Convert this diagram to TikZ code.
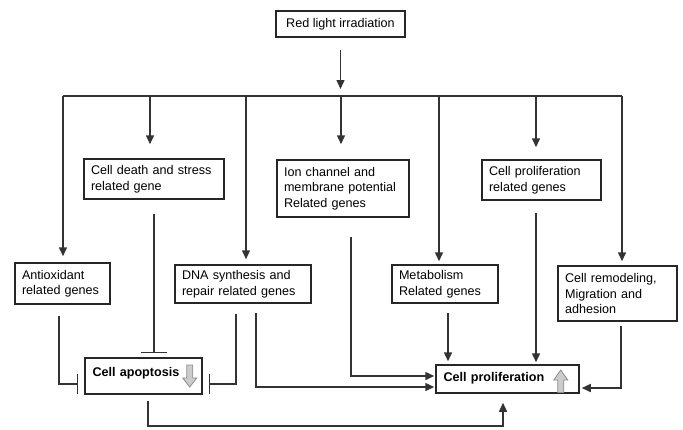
\documentclass[tikz,border=0pt]{standalone}
\usepackage{fontspec}
\setmainfont{Liberation Sans}
\usetikzlibrary{arrows.meta}
\begin{document}
\begin{tikzpicture}[x=1pt,y=-1pt,
  every node/.style={font=\fontsize{12.6}{15.5}\selectfont},
  gbox/.style={draw=black!85, line width=1.5pt, rectangle, inner xsep=7pt, inner ysep=0pt, align=left},
  conn/.style={draw=black!80, line width=1.5pt},
  arr/.style={conn, -{Triangle[length=9pt,width=8pt]}},
  inh/.style={conn, -{Bar[width=20pt]}},
  hollow/.style={draw=black!45, fill=black!20, line width=0.8pt, line join=miter}]
\useasboundingbox (0,0) rectangle (683,429);

% boxes
\node[gbox, minimum width=129pt, minimum height=26pt, align=center] (red) at (340.5,24) {Red light irradiation};
\node[gbox, minimum width=140pt, minimum height=40pt, text width=126pt] (death) at (154,179) {Cell death and stress\\related gene};
\node[gbox, minimum width=132pt, minimum height=57pt, text width=118pt] (ion) at (343,188.5) {Ion channel and\\membrane potential\\Related genes};
\node[gbox, minimum width=119pt, minimum height=40pt, text width=105pt] (cprg) at (541.5,180) {Cell proliferation\\related genes};
\node[gbox, minimum width=95pt, minimum height=41pt, text width=81pt] (antiox) at (62.5,283.5) {Antioxidant\\related genes};
\node[gbox, minimum width=136pt, minimum height=38pt, text width=122pt] (dna) at (243,284) {DNA synthesis and\\repair related genes};
\node[gbox, minimum width=106pt, minimum height=38pt, text width=92pt] (metab) at (445,284) {Metabolism\\Related genes};
\node[gbox, minimum width=119pt, minimum height=55pt, text width=105pt] (remod) at (617.5,293.5) {Cell remodeling,\\Migration and\\adhesion};
\node[gbox, minimum width=117pt, minimum height=36pt, text width=102pt, inner xsep=7.5pt, text height=9pt, text depth=8pt] (apop) at (143.5,376) {\textbf{Cell apoptosis}};
\node[gbox, minimum width=143pt, minimum height=28pt, text width=128pt, inner xsep=7.5pt, text height=9pt, text depth=4pt] (prolif) at (507.5,379) {\textbf{Cell proliferation}};

% grey hollow arrows
\begin{scope}[shift={(apop.east)}]
  \draw[hollow] (-16,-11) -- (-10,-11) -- (-10,2) -- (-6,2) -- (-13,11) -- (-20,2) -- (-16,2) -- cycle;
\end{scope}
\begin{scope}[shift={(prolif.east)}]
  \draw[hollow] (-22,13.5) -- (-16,13.5) -- (-16,1) -- (-12,1) -- (-19,-9) -- (-26,1) -- (-22,1) -- cycle;
\end{scope}

% bus
\coordinate (busL) at (63,96);
\coordinate (busR) at (622,96);
\coordinate (b2) at (150,96);
\coordinate (b3) at (246,96);
\coordinate (b4) at (341,96);
\coordinate (b5) at (439,96);
\coordinate (b6) at (536,96);

\draw[arr, shorten <=12pt, shorten >=7pt] (red.south) -- (red.south |- busL);
\draw[conn] (busL) -- (busR);
\draw[arr, shorten >=6pt] (busL) -- (busL |- antiox.north);
\draw[arr, shorten >=14pt] (b2) -- (b2 |- death.north);
\draw[arr, shorten >=5pt] (b3) -- (b3 |- dna.north);
\draw[arr, shorten >=15pt] (b4) -- (b4 |- ion.north);
\draw[arr, shorten >=3pt] (b5) -- (b5 |- metab.north);
\draw[arr, shorten >=12pt] (b6) -- (b6 |- cprg.north);
\draw[arr, shorten >=4pt] (busR) -- (busR |- remod.north);

% inhibitions to apoptosis
\draw[conn, -{Bar[width=26pt]}, shorten <=14pt, shorten >=4pt] (death.south) -- (death.south |- apop.north);
\draw[inh] ([xshift=-3.5pt,yshift=-11pt]antiox.south) |- ([xshift=-6pt,yshift=-8pt]apop.west);
\draw[inh] ([xshift=-7pt,yshift=-10pt]dna.south) |- ([xshift=6pt,yshift=-8pt]apop.east);

% activations to proliferation
\draw[arr, shorten >=1pt] ([xshift=13pt,yshift=-9pt]dna.south) |- ([yshift=-8pt]prolif.west);
\draw[arr, shorten >=1pt] ([xshift=8pt,yshift=-19pt]ion.south) |- ([yshift=3pt]prolif.west);
\draw[arr, shorten >=3pt] ([xshift=3pt,yshift=-9pt]metab.south) -- ([xshift=3pt]metab.south |- prolif.north);
\draw[arr, shorten >=2pt] ([xshift=-5.5pt,yshift=-12pt]cprg.south) -- ([xshift=-5.5pt]cprg.south |- prolif.north);
\draw[arr, shorten >=2pt] ([xshift=3.5pt,yshift=-4pt]remod.south) |- ([yshift=-9pt]prolif.east);
\draw[arr, shorten >=9pt] ([xshift=4.5pt,yshift=-6pt]apop.south) -- ++(0,25) -| ([xshift=-4.5pt]prolif.south);
\end{tikzpicture}
\end{document}
